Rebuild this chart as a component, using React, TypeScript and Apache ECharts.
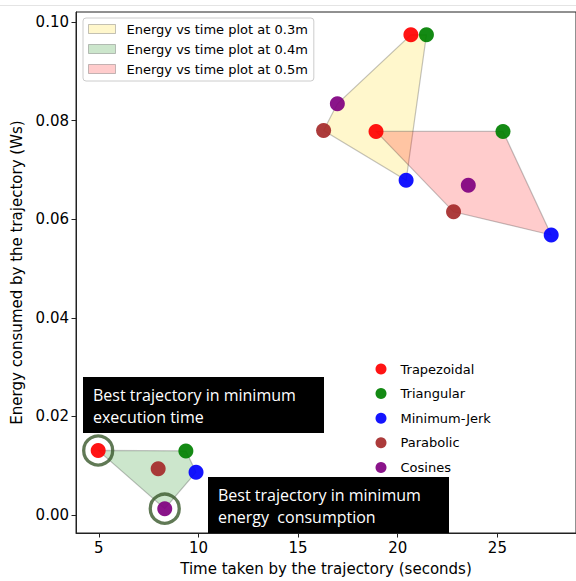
import React, { useEffect, useRef } from "react";
import * as echarts from "echarts";

const trajectoryNames = ["Trapezoidal", "Triangular", "Minimum-Jerk", "Parabolic", "Cosines"];
const markerColors = ["#ff0000", "#008000", "#0000ff", "#a52a2a", "#800080"];

// order: Trapezoidal, Triangular, Minimum-Jerk, Parabolic, Cosines
const time03 = [20.66, 21.44, 20.42, 16.28, 16.97];
const energy03 = [0.0974, 0.0974, 0.0679, 0.078, 0.0834];
const time04 = [4.97, 9.37, 9.88, 7.98, 8.31];
const energy04 = [0.0131, 0.013, 0.0087, 0.0094, 0.0013];
const time05 = [18.91, 25.28, 27.7, 22.8, 23.54];
const energy05 = [0.0778, 0.0778, 0.0568, 0.0615, 0.0669];

const hull03 = [0, 1, 2, 3, 4];
const hull04 = [0, 1, 2, 4];
const hull05 = [0, 1, 2, 3];

const groupNames = [
  "Energy vs time plot at 0.3m",
  "Energy vs time plot at 0.4m",
  "Energy vs time plot at 0.5m",
];
const groupFills = ["rgba(255,215,0,0.2)", "rgba(0,128,0,0.2)", "rgba(255,0,0,0.2)"];
const edgeColor = "rgba(60,60,60,0.3)";

const bestIndices = [0, 4]; // in the 0.4m group
const xTicks = [5, 10, 15, 20, 25];
const yTicks = [0, 0.02, 0.04, 0.06, 0.08, 0.1];

const annotationTexts = [
  "Best trajectory in minimum\nexecution time",
  "Best trajectory in minimum\nenergy  consumption",
];

function polygonSeries(name: string, times: number[], energies: number[], hull: number[], fill: string) {
  return {
    type: "custom",
    name,
    data: hull.map((i) => [times[i], energies[i]]),
    encode: { x: 0, y: 1 },
    itemStyle: { color: fill, borderColor: edgeColor, borderWidth: 1 },
    z: 1,
    renderItem: (params: any, api: any) => {
      if (params.dataIndex !== 0) return null;
      const pts = hull.map((i) => api.coord([times[i], energies[i]]));
      return {
        type: "polygon",
        shape: { points: pts },
        style: { fill, stroke: edgeColor, lineWidth: 1.2 },
      };
    },
  };
}

export default function App() {
  const ref = useRef<HTMLDivElement>(null);
  useEffect(() => {
    if (!ref.current) return;
    const chart = echarts.init(ref.current, undefined, { renderer: "svg" });
    const font = "DejaVu Sans";
    const spine = "#222";
    const scatterSeries = trajectoryNames.map((n, i) => ({
      type: "scatter",
      name: n,
      data: [
        [time03[i], energy03[i]],
        [time04[i], energy04[i]],
        [time05[i], energy05[i]],
      ],
      symbol: "circle",
      symbolSize: 15,
      itemStyle: { color: markerColors[i], opacity: 0.92 },
      z: 3,
    }));
    const annotation = (x: number, y: number, text: string) => ({
      type: "group",
      z: 100,
      children: [
        { type: "rect", shape: { x, y, width: 241, height: 56 }, style: { fill: "#000" } },
        {
          type: "text",
          x: x + 10,
          y: y + 7,
          style: {
            text,
            fill: "#fff",
            fontFamily: "Open Sans",
            fontSize: 16,
            lineHeight: 22,
            verticalAlign: "top",
          },
        },
      ],
    });
    chart.setOption({
      animation: false,
      grid: {
        left: 76,
        top: 12,
        right: -5,
        bottom: 46,
        show: true,
        borderColor: spine,
        borderWidth: 1,
      },
      xAxis: {
        type: "value",
        min: 3.857,
        max: 28.944,
        name: "Time taken by the trajectory (seconds)",
        nameLocation: "middle",
        nameGap: 28,
        nameTextStyle: { fontFamily: font, fontSize: 15, color: "#000" },
        axisLine: { show: true, onZero: false, lineStyle: { color: spine, width: 1 } },
        axisTick: { show: true, length: 4.5, customValues: xTicks, lineStyle: { color: spine } },
        axisLabel: { customValues: xTicks, fontFamily: font, fontSize: 15, color: "#000", margin: 7 },
        splitLine: { show: false },
      },
      yAxis: {
        type: "value",
        min: -0.003636,
        max: 0.10202,
        name: "Energy consumed by the trajectory (Ws)",
        nameLocation: "middle",
        nameGap: 50,
        nameTextStyle: { fontFamily: font, fontSize: 15, color: "#000" },
        axisLine: { show: true, onZero: false, lineStyle: { color: spine, width: 1 } },
        axisTick: { show: true, length: 4.5, customValues: yTicks, lineStyle: { color: spine } },
        axisLabel: {
          customValues: yTicks,
          fontFamily: font,
          fontSize: 15,
          color: "#000",
          margin: 7,
          formatter: (v: number) => v.toFixed(2),
        },
        splitLine: { show: false },
      },
      legend: [
        {
          orient: "vertical",
          left: 83,
          top: 18,
          selectedMode: false,
          data: groupNames.map((n, i) => ({
            name: n,
            icon: "rect",
            itemStyle: { color: groupFills[i], borderColor: edgeColor, borderWidth: 1 },
          })),
          itemWidth: 27,
          itemHeight: 9,
          itemGap: 6,
          padding: [4, 6, 5, 5],
          backgroundColor: "rgba(255,255,255,0.8)",
          borderColor: "#cccccc",
          borderWidth: 1,
          borderRadius: 3,
          textStyle: { fontFamily: font, fontSize: 13, color: "#000", lineHeight: 14, padding: [0, 0, 0, 6] },
        },
        {
          orient: "vertical",
          left: 370.5,
          top: 357,
          selectedMode: false,
          data: trajectoryNames,
          icon: "circle",
          itemWidth: 29,
          itemHeight: 11,
          itemGap: 10.6,
          textStyle: { fontFamily: font, fontSize: 13, color: "#000", lineHeight: 14 },
        },
      ],
      graphic: [
        { type: "line", shape: { x1: 0, y1: 5.5, x2: 576, y2: 5.5 }, style: { stroke: "#e4e4e4", lineWidth: 1 } },
        annotation(83, 377, annotationTexts[0]),
        annotation(208, 477, annotationTexts[1]),
      ],
      series: [
        polygonSeries(groupNames[0], time03, energy03, hull03, groupFills[0]),
        polygonSeries(groupNames[1], time04, energy04, hull04, groupFills[1]),
        polygonSeries(groupNames[2], time05, energy05, hull05, groupFills[2]),
        ...scatterSeries,
        {
          type: "scatter",
          name: "best",
          data: bestIndices.map((i) => [time04[i], energy04[i]]),
          symbol: "circle",
          symbolSize: 29,
          itemStyle: { color: "rgba(0,0,0,0)", borderColor: "#38572a", borderWidth: 3.3 },
          z: 4,
        },
      ],
    });
    return () => chart.dispose();
  }, []);
  return (
    <div
      ref={ref}
      style={{ position: "absolute", left: 0, top: 0, width: 576, height: 581, background: "#fff" }}
    />
  );
}
